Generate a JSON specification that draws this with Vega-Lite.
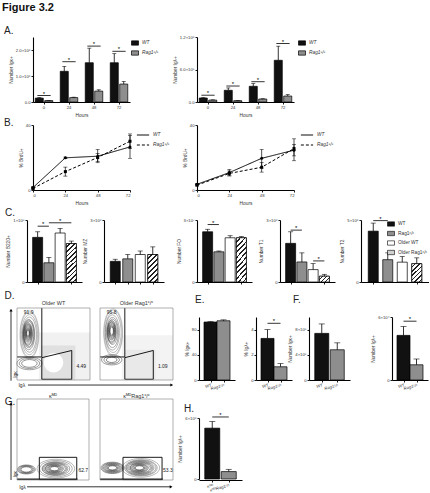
{
"$schema": "https://vega.github.io/schema/vega-lite/v6.json",
"background": "white",
"padding": {"left": 0, "top": 2, "right": 0, "bottom": 0},
"title": {"text": "Figure 3.2", "fontSize": 11, "fontWeight": "bold", "anchor": "start", "frame": "bounds", "dx": 2, "offset": 7, "color": "#111"},
"config": {
  "font": "Liberation Sans",
  "view": {"stroke": null},
  "axis": {"grid": false, "domainColor": "#000", "domainWidth": 1.1, "tickColor": "#000", "tickWidth": 0.9, "tickSize": 2, "labelFontSize": 4.2, "labelColor": "#333", "labelPadding": 1, "labelOverlap": false, "titleFontSize": 4.8, "titleFontWeight": "normal", "titleColor": "#333", "titlePadding": 2},
  "legend": {"labelColor": "#333"},
  "title": {"fontSize": 10, "fontWeight": "normal", "anchor": "start", "frame": "group", "color": "#222", "offset": 0}
},
"spacing": 0,
"resolve": {"scale": {"color": "independent", "shape": "independent", "size": "independent", "strokeDash": "independent", "stroke": "independent", "xOffset": "independent"}},
"vconcat": [
 {"bounds": "flush", "spacing": 0,
  "resolve": {"scale": {"color": "independent", "xOffset": "independent"}},
  "hconcat": [
 {"width": 130, "height": 82,
  "title": {"text": "A.", "dx": 4, "dy": 20},
  "layer": [
   {"data": {"values": [
      {"h": "0", "g": "WT", "v": 150000, "hi": 170000},
      {"h": "0", "g": "Rag1ᶜ/ᶜ", "v": 55000, "hi": 60000},
      {"h": "24", "g": "WT", "v": 1180000, "hi": 1370000},
      {"h": "24", "g": "Rag1ᶜ/ᶜ", "v": 170000, "hi": 185000},
      {"h": "48", "g": "WT", "v": 1510000, "hi": 2070000},
      {"h": "48", "g": "Rag1ᶜ/ᶜ", "v": 420000, "hi": 470000},
      {"h": "72", "g": "WT", "v": 1510000, "hi": 1860000},
      {"h": "72", "g": "Rag1ᶜ/ᶜ", "v": 690000, "hi": 790000}]},
    "encoding": {
      "x": {"field": "h", "type": "ordinal", "sort": ["0", "24", "48", "72"], "scale": {"range": [33, 130], "paddingInner": 0.3, "paddingOuter": 0.09}, "axis": {"title": "Hours", "labelAngle": 0, "titlePadding": 3}},
      "xOffset": {"field": "g", "type": "nominal", "sort": ["WT", "Rag1ᶜ/ᶜ"], "scale": {"paddingInner": 0.15}}},
    "layer": [
     {"mark": {"type": "bar", "stroke": "#000", "strokeWidth": 0.7},
      "encoding": {
       "y": {"field": "v", "type": "quantitative", "scale": {"domain": [0, 2500000], "nice": false, "range": [82, 17]}, "axis": {"offset": -33, "values": [0, 500000, 1000000, 1500000, 2000000, 2500000], "labelExpr": "datum.value == 0 ? '0.0' : datum.value < 1000000 ? format(datum.value/100000, '.1f') + '×10⁵' : format(datum.value/1000000, '.1f') + '×10⁶'", "title": "Number Igκ+"}},
       "color": {"field": "g", "type": "nominal", "sort": ["WT", "Rag1ᶜ/ᶜ"], "scale": {"domain": ["WT", "Rag1ᶜ/ᶜ"], "range": ["#111111", "#8e8e8e"]},
         "legend": {"title": null, "orient": "none", "legendX": 131, "legendY": 19, "padding": 0, "symbolType": "M-1,-0.62H1V0.62H-1Z", "symbolSize": 49, "symbolStrokeColor": "#000", "symbolStrokeWidth": 0.7, "labelFontSize": 4.8, "labelFontStyle": "italic", "labelOffset": 3, "rowPadding": 2}}}},
     {"mark": {"type": "rule", "color": "#000", "strokeWidth": 0.8},
      "encoding": {"y": {"field": "v", "type": "quantitative", "scale": {"domain": [0, 2500000], "nice": false, "range": [82, 17]}, "title": "Number Igκ+"}, "y2": {"field": "hi"}}},
     {"mark": {"type": "tick", "orient": "horizontal", "color": "#000", "size": 4, "thickness": 0.8},
      "encoding": {"y": {"field": "hi", "type": "quantitative", "scale": {"domain": [0, 2500000], "nice": false, "range": [82, 17]}, "title": "Number Igκ+"}}}
    ]},
   {"data": {"values": [{"h": "0", "y": 250000}, {"h": "24", "y": 1550000}, {"h": "48", "y": 2150000}, {"h": "72", "y": 1950000}]},
    "layer": [
     {"mark": {"type": "rule", "color": "#000", "strokeWidth": 0.8},
      "encoding": {"x": {"field": "h", "type": "ordinal", "sort": ["0", "24", "48", "72"], "scale": {"range": [33, 130], "paddingInner": 0.3, "paddingOuter": 0.09}, "bandPosition": 0.12, "title": "Hours"}, "x2": {"field": "h", "bandPosition": 0.88},
       "y": {"field": "y", "type": "quantitative", "scale": {"domain": [0, 2500000], "nice": false, "range": [82, 17]}, "title": "Number Igκ+"}}},
     {"mark": {"type": "text", "text": "*", "fontSize": 6, "baseline": "middle", "dy": -2, "color": "#000"},
      "encoding": {"x": {"field": "h", "type": "ordinal", "sort": ["0", "24", "48", "72"], "scale": {"range": [33, 130], "paddingInner": 0.3, "paddingOuter": 0.09}, "title": "Hours"},
       "y": {"field": "y", "type": "quantitative", "scale": {"domain": [0, 2500000], "nice": false, "range": [82, 17]}, "title": "Number Igκ+"}}}
    ]}
  ]},
 {"width": 164, "height": 82,
  "layer": [
   {"data": {"values": [
      {"h": "0", "g": "WT", "v": 74000, "hi": 80000},
      {"h": "0", "g": "Rag1ᶜ/ᶜ", "v": 35000, "hi": 40000},
      {"h": "24", "g": "WT", "v": 216000, "hi": 260000},
      {"h": "24", "g": "Rag1ᶜ/ᶜ", "v": 25000, "hi": 28000},
      {"h": "48", "g": "WT", "v": 290000, "hi": 340000},
      {"h": "48", "g": "Rag1ᶜ/ᶜ", "v": 55000, "hi": 60000},
      {"h": "72", "g": "WT", "v": 770000, "hi": 1030000},
      {"h": "72", "g": "Rag1ᶜ/ᶜ", "v": 110000, "hi": 137000}]},
    "encoding": {
      "x": {"field": "h", "type": "ordinal", "sort": ["0", "24", "48", "72"], "scale": {"range": [67, 164], "paddingInner": 0.3, "paddingOuter": 0.09}, "axis": {"title": "Hours", "labelAngle": 0, "titlePadding": 3}},
      "xOffset": {"field": "g", "type": "nominal", "sort": ["WT", "Rag1ᶜ/ᶜ"], "scale": {"paddingInner": 0.15}}},
    "layer": [
     {"mark": {"type": "bar", "stroke": "#000", "strokeWidth": 0.7},
      "encoding": {
       "y": {"field": "v", "type": "quantitative", "scale": {"domain": [0, 1200000], "nice": false, "range": [82, 17]}, "axis": {"offset": -67, "values": [0, 300000, 600000, 900000, 1200000], "labelExpr": "datum.value == 0 ? '0.0' : datum.value < 1000000 ? format(datum.value/100000, '.1f') + '×10⁵' : format(datum.value/1000000, '.1f') + '×10⁶'", "title": "Number Igλ+"}},
       "color": {"field": "g", "type": "nominal", "sort": ["WT", "Rag1ᶜ/ᶜ"], "scale": {"domain": ["WT", "Rag1ᶜ/ᶜ"], "range": ["#111111", "#8e8e8e"]},
         "legend": {"title": null, "orient": "none", "legendX": 168, "legendY": 19, "padding": 0, "symbolType": "M-1,-0.62H1V0.62H-1Z", "symbolSize": 49, "symbolStrokeColor": "#000", "symbolStrokeWidth": 0.7, "labelFontSize": 4.8, "labelFontStyle": "italic", "labelOffset": 3, "rowPadding": 2}}}},
     {"mark": {"type": "rule", "color": "#000", "strokeWidth": 0.8},
      "encoding": {"y": {"field": "v", "type": "quantitative", "scale": {"domain": [0, 1200000], "nice": false, "range": [82, 17]}, "title": "Number Igλ+"}, "y2": {"field": "hi"}}},
     {"mark": {"type": "tick", "orient": "horizontal", "color": "#000", "size": 4, "thickness": 0.8},
      "encoding": {"y": {"field": "hi", "type": "quantitative", "scale": {"domain": [0, 1200000], "nice": false, "range": [82, 17]}, "title": "Number Igλ+"}}}
    ]},
   {"data": {"values": [{"h": "0", "y": 125000}, {"h": "24", "y": 295000}, {"h": "48", "y": 375000}, {"h": "72", "y": 1080000}]},
    "layer": [
     {"mark": {"type": "rule", "color": "#000", "strokeWidth": 0.8},
      "encoding": {"x": {"field": "h", "type": "ordinal", "sort": ["0", "24", "48", "72"], "scale": {"range": [67, 164], "paddingInner": 0.3, "paddingOuter": 0.09}, "bandPosition": 0.12, "title": "Hours"}, "x2": {"field": "h", "bandPosition": 0.88},
       "y": {"field": "y", "type": "quantitative", "scale": {"domain": [0, 1200000], "nice": false, "range": [82, 17]}, "title": "Number Igλ+"}}},
     {"mark": {"type": "text", "text": "*", "fontSize": 6, "baseline": "middle", "dy": -2, "color": "#000"},
      "encoding": {"x": {"field": "h", "type": "ordinal", "sort": ["0", "24", "48", "72"], "scale": {"range": [67, 164], "paddingInner": 0.3, "paddingOuter": 0.09}, "title": "Hours"},
       "y": {"field": "y", "type": "quantitative", "scale": {"domain": [0, 1200000], "nice": false, "range": [82, 17]}, "title": "Number Igλ+"}}}
    ]}
  ]}
 ]},
 {"bounds": "flush", "spacing": 0,
  "resolve": {"scale": {"strokeDash": "independent"}},
  "hconcat": [
 {"width": 130, "height": 73,
  "title": {"text": "B.", "dx": 4, "dy": 15},
  "data": {"values": [
    {"h": 0, "g": "WT", "v": 1.5, "lo": 1.0, "hi": 2.0},
    {"h": 24, "g": "WT", "v": 19.8, "lo": 19.3, "hi": 20.3},
    {"h": 48, "g": "WT", "v": 20.8, "lo": 16.8, "hi": 25.0},
    {"h": 72, "g": "WT", "v": 26.5, "lo": 19.5, "hi": 33.5},
    {"h": 0, "g": "Rag1ᶜ/ᶜ", "v": 1.0, "lo": 0.5, "hi": 1.5},
    {"h": 24, "g": "Rag1ᶜ/ᶜ", "v": 11.3, "lo": 8.5, "hi": 14.1},
    {"h": 48, "g": "Rag1ᶜ/ᶜ", "v": 20.0, "lo": 17.5, "hi": 22.5},
    {"h": 72, "g": "Rag1ᶜ/ᶜ", "v": 30.0, "lo": 25.5, "hi": 34.5}]},
  "encoding": {"x": {"field": "h", "type": "quantitative", "scale": {"domain": [0, 72], "nice": false, "range": [33, 130]}, "axis": {"values": [0, 24, 48, 72], "title": "Hours", "titlePadding": 3}}},
  "layer": [
   {"mark": {"type": "rule", "color": "#000", "strokeWidth": 0.7},
    "encoding": {"y": {"field": "lo", "type": "quantitative", "scale": {"domain": [0, 40], "nice": false, "range": [73, 8]}, "axis": {"offset": -33, "values": [0, 10, 20, 30, 40]}, "title": "% BrdU+"}, "y2": {"field": "hi"}}},
   {"mark": {"type": "tick", "orient": "horizontal", "color": "#000", "size": 4, "thickness": 0.7},
    "encoding": {"y": {"field": "lo", "type": "quantitative", "scale": {"domain": [0, 40], "nice": false, "range": [73, 8]}, "title": "% BrdU+"}}},
   {"mark": {"type": "tick", "orient": "horizontal", "color": "#000", "size": 4, "thickness": 0.7},
    "encoding": {"y": {"field": "hi", "type": "quantitative", "scale": {"domain": [0, 40], "nice": false, "range": [73, 8]}, "title": "% BrdU+"}}},
   {"mark": {"type": "line", "color": "#000", "strokeWidth": 1},
    "encoding": {"y": {"field": "v", "type": "quantitative", "scale": {"domain": [0, 40], "nice": false, "range": [73, 8]}, "title": "% BrdU+"},
     "strokeDash": {"field": "g", "type": "nominal", "scale": {"domain": ["WT", "Rag1ᶜ/ᶜ"], "range": [[1, 0], [3, 2]]},
       "legend": {"title": null, "orient": "none", "legendX": 136, "legendY": 11, "padding": 0, "symbolType": "stroke", "symbolSize": 150, "symbolStrokeColor": "#000", "symbolStrokeWidth": 1, "labelFontSize": 4.8, "labelFontStyle": "italic", "labelOffset": 3, "rowPadding": 1}}}},
   {"transform": [{"filter": "datum.g == 'WT'"}],
    "mark": {"type": "point", "shape": "circle", "filled": true, "color": "#000", "size": 9, "opacity": 1},
    "encoding": {"y": {"field": "v", "type": "quantitative", "scale": {"domain": [0, 40], "nice": false, "range": [73, 8]}, "title": "% BrdU+"}}},
   {"transform": [{"filter": "datum.g != 'WT'"}],
    "mark": {"type": "point", "shape": "square", "filled": true, "color": "#000", "size": 9, "opacity": 1},
    "encoding": {"y": {"field": "v", "type": "quantitative", "scale": {"domain": [0, 40], "nice": false, "range": [73, 8]}, "title": "% BrdU+"}}}
  ]},
 {"width": 164, "height": 73,
  "data": {"values": [
    {"h": 0, "g": "WT", "v": 3.5, "lo": 3.0, "hi": 4.0},
    {"h": 24, "g": "WT", "v": 10.7, "lo": 8.7, "hi": 12.7},
    {"h": 48, "g": "WT", "v": 19.5, "lo": 13.5, "hi": 25.0},
    {"h": 72, "g": "WT", "v": 24.5, "lo": 21.0, "hi": 28.0},
    {"h": 0, "g": "Rag1ᶜ/ᶜ", "v": 3.0, "lo": 2.5, "hi": 3.5},
    {"h": 24, "g": "Rag1ᶜ/ᶜ", "v": 10.2, "lo": 8.7, "hi": 11.7},
    {"h": 48, "g": "Rag1ᶜ/ᶜ", "v": 14.0, "lo": 11.0, "hi": 17.0},
    {"h": 72, "g": "Rag1ᶜ/ᶜ", "v": 25.5, "lo": 18.0, "hi": 31.5}]},
  "encoding": {"x": {"field": "h", "type": "quantitative", "scale": {"domain": [0, 72], "nice": false, "range": [67, 164]}, "axis": {"values": [0, 24, 48, 72], "title": "Hours", "titlePadding": 3}}},
  "layer": [
   {"mark": {"type": "rule", "color": "#000", "strokeWidth": 0.7},
    "encoding": {"y": {"field": "lo", "type": "quantitative", "scale": {"domain": [0, 40], "nice": false, "range": [73, 8]}, "axis": {"offset": -67, "values": [0, 10, 20, 30, 40]}, "title": "% BrdU+"}, "y2": {"field": "hi"}}},
   {"mark": {"type": "tick", "orient": "horizontal", "color": "#000", "size": 4, "thickness": 0.7},
    "encoding": {"y": {"field": "lo", "type": "quantitative", "scale": {"domain": [0, 40], "nice": false, "range": [73, 8]}, "title": "% BrdU+"}}},
   {"mark": {"type": "tick", "orient": "horizontal", "color": "#000", "size": 4, "thickness": 0.7},
    "encoding": {"y": {"field": "hi", "type": "quantitative", "scale": {"domain": [0, 40], "nice": false, "range": [73, 8]}, "title": "% BrdU+"}}},
   {"mark": {"type": "line", "color": "#000", "strokeWidth": 1},
    "encoding": {"y": {"field": "v", "type": "quantitative", "scale": {"domain": [0, 40], "nice": false, "range": [73, 8]}, "title": "% BrdU+"},
     "strokeDash": {"field": "g", "type": "nominal", "scale": {"domain": ["WT", "Rag1ᶜ/ᶜ"], "range": [[1, 0], [3, 2]]},
       "legend": {"title": null, "orient": "none", "legendX": 170, "legendY": 11, "padding": 0, "symbolType": "stroke", "symbolSize": 150, "symbolStrokeColor": "#000", "symbolStrokeWidth": 1, "labelFontSize": 4.8, "labelFontStyle": "italic", "labelOffset": 3, "rowPadding": 1}}}},
   {"transform": [{"filter": "datum.g == 'WT'"}],
    "mark": {"type": "point", "shape": "circle", "filled": true, "color": "#000", "size": 9, "opacity": 1},
    "encoding": {"y": {"field": "v", "type": "quantitative", "scale": {"domain": [0, 40], "nice": false, "range": [73, 8]}, "title": "% BrdU+"}}},
   {"transform": [{"filter": "datum.g != 'WT'"}],
    "mark": {"type": "point", "shape": "square", "filled": true, "color": "#000", "size": 9, "opacity": 1},
    "encoding": {"y": {"field": "v", "type": "quantitative", "scale": {"domain": [0, 40], "nice": false, "range": [73, 8]}, "title": "% BrdU+"}}}
  ]}
 ]},
 {"bounds": "flush", "spacing": 0,
  "resolve": {"scale": {"color": "independent"}},
  "hconcat": [
 {"width": 82, "height": 77,
  "title": {"text": "C.", "dx": 5, "dy": 17},
  "layer": [
   {"data": {"values": [
      {"i": 1, "g": "WT", "v": 72000000, "hi": 81000000},
      {"i": 2, "g": "Rag1ᶜ/ᶜ", "v": 31000000, "hi": 39500000},
      {"i": 3, "g": "Older WT", "v": 79000000, "hi": 86500000},
      {"i": 4, "g": "Older Rag1ᶜ/ᶜ", "v": 62000000, "hi": 66000000}]},
    "encoding": {
      "x": {"field": "i", "type": "quantitative", "scale": {"domain": [0.5, 4.5], "nice": false, "zero": false, "range": [27, 82]}, "axis": {"values": [1, 2, 3, 4], "labels": false, "title": null}}},
    "layer": [
     {"mark": {"type": "bar", "size": 10, "stroke": "#000", "strokeWidth": 0.7},
      "encoding": {
       "y": {"field": "v", "type": "quantitative", "scale": {"domain": [0, 100000000], "nice": false, "range": [77, 15]}, "axis": {"offset": -27, "values": [0, 20000000, 40000000, 60000000, 80000000, 100000000], "labelExpr": "datum.value == 0 ? '0' : datum.value >= 100000000 ? '1×10⁸' : format(datum.value/10000000, 'd') + '×10⁷'", "title": "Number B220+"}},
       "color": {"field": "g", "type": "nominal", "scale": {"domain": ["WT", "Rag1ᶜ/ᶜ", "Older WT", "Older Rag1ᶜ/ᶜ"], "range": ["#111111", "#8e8e8e", "#ffffff", "#d0d0d0"]}, "legend": null}}},
     {"transform": [{"filter": "datum.i == 4"}],
      "mark": {"type": "bar", "size": 10, "stroke": "#000", "strokeWidth": 0.7,
       "fill": {"gradient": "linear", "x1": 0, "y1": 0, "x2": 1, "y2": 4, "stops": [
        {"offset": 0, "color": "#fff"}, {"offset": 0.018, "color": "#fff"}, {"offset": 0.018, "color": "#222"}, {"offset": 0.028, "color": "#222"},
        {"offset": 0.028, "color": "#fff"}, {"offset": 0.046, "color": "#fff"}, {"offset": 0.046, "color": "#222"}, {"offset": 0.056, "color": "#222"},
        {"offset": 0.056, "color": "#fff"}, {"offset": 0.074, "color": "#fff"}, {"offset": 0.074, "color": "#222"}, {"offset": 0.084, "color": "#222"},
        {"offset": 0.084, "color": "#fff"}, {"offset": 0.102, "color": "#fff"}, {"offset": 0.102, "color": "#222"}, {"offset": 0.112, "color": "#222"},
        {"offset": 0.112, "color": "#fff"}, {"offset": 0.13, "color": "#fff"}, {"offset": 0.13, "color": "#222"}, {"offset": 0.14, "color": "#222"},
        {"offset": 0.14, "color": "#fff"}, {"offset": 0.158, "color": "#fff"}, {"offset": 0.158, "color": "#222"}, {"offset": 0.168, "color": "#222"},
        {"offset": 0.168, "color": "#fff"}, {"offset": 0.186, "color": "#fff"}, {"offset": 0.186, "color": "#222"}, {"offset": 0.196, "color": "#222"},
        {"offset": 0.196, "color": "#fff"}, {"offset": 0.214, "color": "#fff"}, {"offset": 0.214, "color": "#222"}, {"offset": 0.224, "color": "#222"},
        {"offset": 0.224, "color": "#fff"}, {"offset": 0.242, "color": "#fff"}, {"offset": 0.242, "color": "#222"}, {"offset": 0.252, "color": "#222"},
        {"offset": 0.252, "color": "#fff"}, {"offset": 0.27, "color": "#fff"}, {"offset": 0.27, "color": "#222"}, {"offset": 0.28, "color": "#222"},
        {"offset": 0.28, "color": "#fff"}, {"offset": 0.298, "color": "#fff"}, {"offset": 0.298, "color": "#222"}, {"offset": 0.308, "color": "#222"},
        {"offset": 0.308, "color": "#fff"}]}},
      "encoding": {"y": {"field": "v", "type": "quantitative", "scale": {"domain": [0, 100000000], "nice": false, "range": [77, 15]}, "title": "Number B220+"}}},
     {"mark": {"type": "rule", "color": "#000", "strokeWidth": 0.8},
      "encoding": {"y": {"field": "v", "type": "quantitative", "scale": {"domain": [0, 100000000], "nice": false, "range": [77, 15]}, "title": "Number B220+"}, "y2": {"field": "hi"}}},
     {"mark": {"type": "tick", "orient": "horizontal", "color": "#000", "size": 5, "thickness": 0.8},
      "encoding": {"y": {"field": "hi", "type": "quantitative", "scale": {"domain": [0, 100000000], "nice": false, "range": [77, 15]}, "title": "Number B220+"}}}
    ]},
   {"data": {"values": [{"x1": 1, "x2": 2, "xm": 1.5, "y": 90000000}, {"x1": 2, "x2": 4, "xm": 3, "y": 95500000}]},
    "encoding": {"y": {"field": "y", "type": "quantitative", "scale": {"domain": [0, 100000000], "nice": false, "range": [77, 15]}, "title": "Number B220+"}},
    "layer": [
     {"mark": {"type": "rule", "color": "#000", "strokeWidth": 0.8},
      "encoding": {"x": {"field": "x1", "type": "quantitative", "scale": {"domain": [0.5, 4.5], "nice": false, "zero": false, "range": [27, 82]}, "title": null}, "x2": {"field": "x2"}}},
     {"mark": {"type": "text", "text": "*", "fontSize": 6, "baseline": "middle", "dy": -2, "color": "#000"},
      "encoding": {"x": {"field": "xm", "type": "quantitative", "scale": {"domain": [0.5, 4.5], "nice": false, "zero": false, "range": [27, 82]}, "title": null}}}
    ]}
  ]},
 {"width": 82, "height": 77,
  "data": {"values": [
    {"i": 1, "g": "WT", "v": 1000000, "hi": 1100000},
    {"i": 2, "g": "Rag1ᶜ/ᶜ", "v": 1120000, "hi": 1330000},
    {"i": 3, "g": "Older WT", "v": 1330000, "hi": 1500000},
    {"i": 4, "g": "Older Rag1ᶜ/ᶜ", "v": 1330000, "hi": 1700000}]},
  "encoding": {
    "x": {"field": "i", "type": "quantitative", "scale": {"domain": [0.5, 4.5], "nice": false, "zero": false, "range": [22, 82]}, "axis": {"values": [1, 2, 3, 4], "labels": false, "title": null}}},
  "layer": [
   {"mark": {"type": "bar", "size": 10, "stroke": "#000", "strokeWidth": 0.7},
    "encoding": {
     "y": {"field": "v", "type": "quantitative", "scale": {"domain": [0, 3000000], "nice": false, "range": [77, 15]}, "axis": {"offset": -22, "values": [0, 1000000, 2000000, 3000000], "labelExpr": "datum.value == 0 ? '0' : format(datum.value/1000000, 'd') + '×10⁶'", "title": "Number MZ"}},
     "color": {"field": "g", "type": "nominal", "scale": {"domain": ["WT", "Rag1ᶜ/ᶜ", "Older WT", "Older Rag1ᶜ/ᶜ"], "range": ["#111111", "#8e8e8e", "#ffffff", "#d0d0d0"]}, "legend": null}}},
   {"transform": [{"filter": "datum.i == 4"}],
    "mark": {"type": "bar", "size": 10, "stroke": "#000", "strokeWidth": 0.7,
     "fill": {"gradient": "linear", "x1": 0, "y1": 0, "x2": 1, "y2": 2.7, "stops": [
      {"offset": 0, "color": "#fff"}, {"offset": 0.039, "color": "#fff"}, {"offset": 0.039, "color": "#222"}, {"offset": 0.06, "color": "#222"},
      {"offset": 0.06, "color": "#fff"}, {"offset": 0.099, "color": "#fff"}, {"offset": 0.099, "color": "#222"}, {"offset": 0.12, "color": "#222"},
      {"offset": 0.12, "color": "#fff"}, {"offset": 0.159, "color": "#fff"}, {"offset": 0.159, "color": "#222"}, {"offset": 0.18, "color": "#222"},
      {"offset": 0.18, "color": "#fff"}, {"offset": 0.219, "color": "#fff"}, {"offset": 0.219, "color": "#222"}, {"offset": 0.24, "color": "#222"},
      {"offset": 0.24, "color": "#fff"}, {"offset": 0.279, "color": "#fff"}, {"offset": 0.279, "color": "#222"}, {"offset": 0.3, "color": "#222"},
      {"offset": 0.3, "color": "#fff"}, {"offset": 0.339, "color": "#fff"}, {"offset": 0.339, "color": "#222"}, {"offset": 0.36, "color": "#222"},
      {"offset": 0.36, "color": "#fff"}, {"offset": 0.399, "color": "#fff"}, {"offset": 0.399, "color": "#222"}, {"offset": 0.42, "color": "#222"},
      {"offset": 0.42, "color": "#fff"}, {"offset": 0.459, "color": "#fff"}, {"offset": 0.459, "color": "#222"}, {"offset": 0.48, "color": "#222"},
      {"offset": 0.48, "color": "#fff"}]}},
    "encoding": {"y": {"field": "v", "type": "quantitative", "scale": {"domain": [0, 3000000], "nice": false, "range": [77, 15]}, "title": "Number MZ"}}},
   {"mark": {"type": "rule", "color": "#000", "strokeWidth": 0.8},
    "encoding": {"y": {"field": "v", "type": "quantitative", "scale": {"domain": [0, 3000000], "nice": false, "range": [77, 15]}, "title": "Number MZ"}, "y2": {"field": "hi"}}},
   {"mark": {"type": "tick", "orient": "horizontal", "color": "#000", "size": 5, "thickness": 0.8},
    "encoding": {"y": {"field": "hi", "type": "quantitative", "scale": {"domain": [0, 3000000], "nice": false, "range": [77, 15]}, "title": "Number MZ"}}}
  ]},
 {"width": 88, "height": 77,
  "layer": [
   {"data": {"values": [
      {"i": 1, "g": "WT", "v": 24300000, "hi": 25500000},
      {"i": 2, "g": "Rag1ᶜ/ᶜ", "v": 14600000, "hi": 15000000},
      {"i": 3, "g": "Older WT", "v": 21400000, "hi": 22400000},
      {"i": 4, "g": "Older Rag1ᶜ/ᶜ", "v": 21400000, "hi": 22000000}]},
    "encoding": {
      "x": {"field": "i", "type": "quantitative", "scale": {"domain": [0.5, 4.5], "nice": false, "zero": false, "range": [33, 88]}, "axis": {"values": [1, 2, 3, 4], "labels": false, "title": null}}},
    "layer": [
     {"mark": {"type": "bar", "size": 10, "stroke": "#000", "strokeWidth": 0.7},
      "encoding": {
       "y": {"field": "v", "type": "quantitative", "scale": {"domain": [0, 30000000], "nice": false, "range": [77, 15]}, "axis": {"offset": -33, "values": [0, 10000000, 20000000, 30000000], "labelExpr": "datum.value == 0 ? '0' : format(datum.value/10000000, 'd') + '×10⁷'", "title": "Number FO"}},
       "color": {"field": "g", "type": "nominal", "scale": {"domain": ["WT", "Rag1ᶜ/ᶜ", "Older WT", "Older Rag1ᶜ/ᶜ"], "range": ["#111111", "#8e8e8e", "#ffffff", "#d0d0d0"]}, "legend": null}}},
     {"transform": [{"filter": "datum.i == 4"}],
      "mark": {"type": "bar", "size": 10, "stroke": "#000", "strokeWidth": 0.7,
       "fill": {"gradient": "linear", "x1": 0, "y1": 0, "x2": 1, "y2": 4, "stops": [
        {"offset": 0, "color": "#fff"}, {"offset": 0.018, "color": "#fff"}, {"offset": 0.018, "color": "#222"}, {"offset": 0.028, "color": "#222"},
        {"offset": 0.028, "color": "#fff"}, {"offset": 0.046, "color": "#fff"}, {"offset": 0.046, "color": "#222"}, {"offset": 0.056, "color": "#222"},
        {"offset": 0.056, "color": "#fff"}, {"offset": 0.074, "color": "#fff"}, {"offset": 0.074, "color": "#222"}, {"offset": 0.084, "color": "#222"},
        {"offset": 0.084, "color": "#fff"}, {"offset": 0.102, "color": "#fff"}, {"offset": 0.102, "color": "#222"}, {"offset": 0.112, "color": "#222"},
        {"offset": 0.112, "color": "#fff"}, {"offset": 0.13, "color": "#fff"}, {"offset": 0.13, "color": "#222"}, {"offset": 0.14, "color": "#222"},
        {"offset": 0.14, "color": "#fff"}, {"offset": 0.158, "color": "#fff"}, {"offset": 0.158, "color": "#222"}, {"offset": 0.168, "color": "#222"},
        {"offset": 0.168, "color": "#fff"}, {"offset": 0.186, "color": "#fff"}, {"offset": 0.186, "color": "#222"}, {"offset": 0.196, "color": "#222"},
        {"offset": 0.196, "color": "#fff"}, {"offset": 0.214, "color": "#fff"}, {"offset": 0.214, "color": "#222"}, {"offset": 0.224, "color": "#222"},
        {"offset": 0.224, "color": "#fff"}, {"offset": 0.242, "color": "#fff"}, {"offset": 0.242, "color": "#222"}, {"offset": 0.252, "color": "#222"},
        {"offset": 0.252, "color": "#fff"}, {"offset": 0.27, "color": "#fff"}, {"offset": 0.27, "color": "#222"}, {"offset": 0.28, "color": "#222"},
        {"offset": 0.28, "color": "#fff"}, {"offset": 0.298, "color": "#fff"}, {"offset": 0.298, "color": "#222"}, {"offset": 0.308, "color": "#222"},
        {"offset": 0.308, "color": "#fff"}]}},
      "encoding": {"y": {"field": "v", "type": "quantitative", "scale": {"domain": [0, 30000000], "nice": false, "range": [77, 15]}, "title": "Number FO"}}},
     {"mark": {"type": "rule", "color": "#000", "strokeWidth": 0.8},
      "encoding": {"y": {"field": "v", "type": "quantitative", "scale": {"domain": [0, 30000000], "nice": false, "range": [77, 15]}, "title": "Number FO"}, "y2": {"field": "hi"}}},
     {"mark": {"type": "tick", "orient": "horizontal", "color": "#000", "size": 5, "thickness": 0.8},
      "encoding": {"y": {"field": "hi", "type": "quantitative", "scale": {"domain": [0, 30000000], "nice": false, "range": [77, 15]}, "title": "Number FO"}}}
    ]},
   {"data": {"values": [{"x1": 1, "x2": 2, "xm": 1.5, "y": 27800000}]},
    "encoding": {"y": {"field": "y", "type": "quantitative", "scale": {"domain": [0, 30000000], "nice": false, "range": [77, 15]}, "title": "Number FO"}},
    "layer": [
     {"mark": {"type": "rule", "color": "#000", "strokeWidth": 0.8},
      "encoding": {"x": {"field": "x1", "type": "quantitative", "scale": {"domain": [0.5, 4.5], "nice": false, "zero": false, "range": [33, 88]}, "title": null}, "x2": {"field": "x2"}}},
     {"mark": {"type": "text", "text": "*", "fontSize": 6, "baseline": "middle", "dy": -2, "color": "#000"},
      "encoding": {"x": {"field": "xm", "type": "quantitative", "scale": {"domain": [0.5, 4.5], "nice": false, "zero": false, "range": [33, 88]}, "title": null}}}
    ]}
  ]},
 {"width": 83, "height": 77,
  "layer": [
   {"data": {"values": [
      {"i": 1, "g": "WT", "v": 1870000, "hi": 2430000},
      {"i": 2, "g": "Rag1ᶜ/ᶜ", "v": 970000, "hi": 1410000},
      {"i": 3, "g": "Older WT", "v": 600000, "hi": 890000},
      {"i": 4, "g": "Older Rag1ᶜ/ᶜ", "v": 280000, "hi": 370000}]},
    "encoding": {
      "x": {"field": "i", "type": "quantitative", "scale": {"domain": [0.5, 4.5], "nice": false, "zero": false, "range": [28, 83]}, "axis": {"values": [1, 2, 3, 4], "labels": false, "title": null}}},
    "layer": [
     {"mark": {"type": "bar", "size": 10, "stroke": "#000", "strokeWidth": 0.7},
      "encoding": {
       "y": {"field": "v", "type": "quantitative", "scale": {"domain": [0, 3000000], "nice": false, "range": [77, 15]}, "axis": {"offset": -28, "values": [0, 1000000, 2000000, 3000000], "labelExpr": "datum.value == 0 ? '0' : format(datum.value/1000000, 'd') + '×10⁶'", "title": "Number T1"}},
       "color": {"field": "g", "type": "nominal", "scale": {"domain": ["WT", "Rag1ᶜ/ᶜ", "Older WT", "Older Rag1ᶜ/ᶜ"], "range": ["#111111", "#8e8e8e", "#ffffff", "#d0d0d0"]}, "legend": null}}},
     {"transform": [{"filter": "datum.i == 4"}],
      "mark": {"type": "bar", "size": 10, "stroke": "#000", "strokeWidth": 0.7,
       "fill": {"gradient": "linear", "x1": 0, "y1": 0, "x2": 1, "y2": 0.6, "stops": [
        {"offset": 0, "color": "#fff"}, {"offset": 0.195, "color": "#fff"}, {"offset": 0.195, "color": "#222"}, {"offset": 0.3, "color": "#222"},
        {"offset": 0.3, "color": "#fff"}, {"offset": 0.495, "color": "#fff"}, {"offset": 0.495, "color": "#222"}, {"offset": 0.6, "color": "#222"},
        {"offset": 0.6, "color": "#fff"}, {"offset": 0.795, "color": "#fff"}, {"offset": 0.795, "color": "#222"}, {"offset": 0.9, "color": "#222"},
        {"offset": 0.9, "color": "#fff"}]}},
      "encoding": {"y": {"field": "v", "type": "quantitative", "scale": {"domain": [0, 3000000], "nice": false, "range": [77, 15]}, "title": "Number T1"}}},
     {"mark": {"type": "rule", "color": "#000", "strokeWidth": 0.8},
      "encoding": {"y": {"field": "v", "type": "quantitative", "scale": {"domain": [0, 3000000], "nice": false, "range": [77, 15]}, "title": "Number T1"}, "y2": {"field": "hi"}}},
     {"mark": {"type": "tick", "orient": "horizontal", "color": "#000", "size": 5, "thickness": 0.8},
      "encoding": {"y": {"field": "hi", "type": "quantitative", "scale": {"domain": [0, 3000000], "nice": false, "range": [77, 15]}, "title": "Number T1"}}}
    ]},
   {"data": {"values": [{"x1": 1, "x2": 2, "xm": 1.5, "y": 2510000}, {"x1": 3, "x2": 4, "xm": 3.5, "y": 1020000}]},
    "encoding": {"y": {"field": "y", "type": "quantitative", "scale": {"domain": [0, 3000000], "nice": false, "range": [77, 15]}, "title": "Number T1"}},
    "layer": [
     {"mark": {"type": "rule", "color": "#000", "strokeWidth": 0.8},
      "encoding": {"x": {"field": "x1", "type": "quantitative", "scale": {"domain": [0.5, 4.5], "nice": false, "zero": false, "range": [28, 83]}, "title": null}, "x2": {"field": "x2"}}},
     {"mark": {"type": "text", "text": "*", "fontSize": 6, "baseline": "middle", "dy": -2, "color": "#000"},
      "encoding": {"x": {"field": "xm", "type": "quantitative", "scale": {"domain": [0.5, 4.5], "nice": false, "zero": false, "range": [28, 83]}, "title": null}}}
    ]}
  ]},
 {"width": 94, "height": 77,
  "layer": [
   {"data": {"values": [
      {"i": 1, "g": "WT", "v": 4100000, "hi": 4750000},
      {"i": 2, "g": "Rag1ᶜ/ᶜ", "v": 1800000, "hi": 2350000},
      {"i": 3, "g": "Older WT", "v": 1600000, "hi": 2050000},
      {"i": 4, "g": "Older Rag1ᶜ/ᶜ", "v": 1480000, "hi": 1950000}]},
    "encoding": {
      "x": {"field": "i", "type": "quantitative", "scale": {"domain": [0.5, 4.5], "nice": false, "zero": false, "range": [26, 94]}, "axis": {"values": [1, 2, 3, 4], "labels": false, "title": null}}},
    "layer": [
     {"mark": {"type": "bar", "size": 10, "stroke": "#000", "strokeWidth": 0.7},
      "encoding": {
       "y": {"field": "v", "type": "quantitative", "scale": {"domain": [0, 5000000], "nice": false, "range": [77, 15]}, "axis": {"offset": -26, "values": [0, 1000000, 2000000, 3000000, 4000000, 5000000], "labelExpr": "datum.value == 0 ? '0' : format(datum.value/1000000, 'd') + '×10⁶'", "title": "Number T2"}},
       "color": {"field": "g", "type": "nominal", "scale": {"domain": ["WT", "Rag1ᶜ/ᶜ", "Older WT", "Older Rag1ᶜ/ᶜ"], "range": ["#111111", "#8e8e8e", "#ffffff", "#d0d0d0"]},
         "legend": {"title": null, "orient": "none", "legendX": 52, "legendY": 15, "padding": 0, "symbolType": "M-1,-0.62H1V0.62H-1Z", "symbolSize": 49, "symbolStrokeColor": "#000", "symbolStrokeWidth": 0.6, "labelFontSize": 4.8, "labelOffset": 3, "rowPadding": 1.5}}}},
     {"transform": [{"filter": "datum.i == 4"}],
      "mark": {"type": "bar", "size": 10, "stroke": "#000", "strokeWidth": 0.7,
       "fill": {"gradient": "linear", "x1": 0, "y1": 0, "x2": 1, "y2": 1.84, "stops": [
        {"offset": 0, "color": "#fff"}, {"offset": 0.065, "color": "#fff"}, {"offset": 0.065, "color": "#222"}, {"offset": 0.1, "color": "#222"},
        {"offset": 0.1, "color": "#fff"}, {"offset": 0.165, "color": "#fff"}, {"offset": 0.165, "color": "#222"}, {"offset": 0.2, "color": "#222"},
        {"offset": 0.2, "color": "#fff"}, {"offset": 0.265, "color": "#fff"}, {"offset": 0.265, "color": "#222"}, {"offset": 0.3, "color": "#222"},
        {"offset": 0.3, "color": "#fff"}, {"offset": 0.365, "color": "#fff"}, {"offset": 0.365, "color": "#222"}, {"offset": 0.4, "color": "#222"},
        {"offset": 0.4, "color": "#fff"}, {"offset": 0.465, "color": "#fff"}, {"offset": 0.465, "color": "#222"}, {"offset": 0.5, "color": "#222"},
        {"offset": 0.5, "color": "#fff"}, {"offset": 0.565, "color": "#fff"}, {"offset": 0.565, "color": "#222"}, {"offset": 0.6, "color": "#222"},
        {"offset": 0.6, "color": "#fff"}, {"offset": 0.665, "color": "#fff"}, {"offset": 0.665, "color": "#222"}, {"offset": 0.7, "color": "#222"},
        {"offset": 0.7, "color": "#fff"}]}},
      "encoding": {"y": {"field": "v", "type": "quantitative", "scale": {"domain": [0, 5000000], "nice": false, "range": [77, 15]}, "title": "Number T2"}}},
     {"mark": {"type": "rule", "color": "#000", "strokeWidth": 0.8},
      "encoding": {"y": {"field": "v", "type": "quantitative", "scale": {"domain": [0, 5000000], "nice": false, "range": [77, 15]}, "title": "Number T2"}, "y2": {"field": "hi"}}},
     {"mark": {"type": "tick", "orient": "horizontal", "color": "#000", "size": 5, "thickness": 0.8},
      "encoding": {"y": {"field": "hi", "type": "quantitative", "scale": {"domain": [0, 5000000], "nice": false, "range": [77, 15]}, "title": "Number T2"}}}
    ]},
   {"data": {"values": [{"x1": 1, "x2": 2, "xm": 1.5, "y": 4950000}]},
    "encoding": {"y": {"field": "y", "type": "quantitative", "scale": {"domain": [0, 5000000], "nice": false, "range": [77, 15]}, "title": "Number T2"}},
    "layer": [
     {"mark": {"type": "rule", "color": "#000", "strokeWidth": 0.8},
      "encoding": {"x": {"field": "x1", "type": "quantitative", "scale": {"domain": [0.5, 4.5], "nice": false, "zero": false, "range": [26, 94]}, "title": null}, "x2": {"field": "x2"}}},
     {"mark": {"type": "text", "text": "*", "fontSize": 6, "baseline": "middle", "dy": -2, "color": "#000"},
      "encoding": {"x": {"field": "xm", "type": "quantitative", "scale": {"domain": [0.5, 4.5], "nice": false, "zero": false, "range": [26, 94]}, "title": null}}}
    ]}
  ]}
 ]},
 {"bounds": "flush", "spacing": 0,
  "resolve": {"scale": {"color": "independent", "shape": "independent", "size": "independent", "stroke": "independent"}},
  "hconcat": [
 {"width": 90, "height": 95,
  "title": {"text": "Older WT", "anchor": "middle", "fontSize": 5.5, "dx": 8.5, "dy": 25, "color": "#333"},
  "layer": [
   {"data": {"values": [{"x": 30, "x2": 100, "y": 0, "y2": 66, "d": "low"}, {"x": 33, "x2": 80, "y": 0, "y2": 48, "d": "mid"}]},
    "mark": {"type": "rect"},
    "encoding": {
     "x": {"field": "x", "type": "quantitative", "scale": {"domain": [0, 100], "nice": false, "zero": false, "range": [17, 90]}, "axis": null}, "x2": {"field": "x2"},
     "y": {"field": "y", "type": "quantitative", "scale": {"domain": [0, 100], "nice": false, "zero": false, "range": [95, 23]}, "axis": null}, "y2": {"field": "y2"},
     "color": {"field": "d", "type": "nominal", "scale": {"domain": ["low", "mid"], "range": ["#f1f1f1", "#e0e0e0"]}, "legend": null}}},
   {"data": {"values": [{"x": 50, "y": 24}]},
    "mark": {"type": "point", "shape": "circle", "filled": true, "color": "#ffffff", "size": 380, "opacity": 1},
    "encoding": {
     "x": {"field": "x", "type": "quantitative", "scale": {"domain": [0, 100], "nice": false, "zero": false, "range": [17, 90]}, "axis": null},
     "y": {"field": "y", "type": "quantitative", "scale": {"domain": [0, 100], "nice": false, "zero": false, "range": [95, 23]}, "axis": null}}},
   {"data": {"values": [
      {"x": 17, "y": 63, "f": "v", "lv": 9.5}, {"x": 17, "y": 63, "f": "v", "lv": 9}, {"x": 17, "y": 63, "f": "v", "lv": 8},
      {"x": 17, "y": 63, "f": "v", "lv": 7}, {"x": 16, "y": 63, "f": "v", "lv": 6}, {"x": 16, "y": 64, "f": "v", "lv": 5.5},
      {"x": 16, "y": 64, "f": "v", "lv": 5}, {"x": 15, "y": 64, "f": "v", "lv": 4.5}, {"x": 15, "y": 64, "f": "v", "lv": 4},
      {"x": 15, "y": 65, "f": "v", "lv": 3.5}, {"x": 15, "y": 65, "f": "v", "lv": 3}, {"x": 15, "y": 65, "f": "v", "lv": 2.5},
      {"x": 15, "y": 65, "f": "v", "lv": 2}, {"x": 15, "y": 65, "f": "v", "lv": 1.5}, {"x": 15, "y": 65, "f": "v", "lv": 1},
      {"x": 17, "y": 23, "f": "h", "lv": 5}, {"x": 17, "y": 23, "f": "h", "lv": 4}, {"x": 17, "y": 23, "f": "h", "lv": 3}]},
    "mark": {"type": "point", "filled": false, "strokeWidth": 0.5, "opacity": 1},
    "encoding": {
     "x": {"field": "x", "type": "quantitative", "scale": {"domain": [0, 100], "nice": false, "zero": false, "range": [17, 90]}, "axis": null},
     "y": {"field": "y", "type": "quantitative", "scale": {"domain": [0, 100], "nice": false, "zero": false, "range": [95, 23]}, "axis": null},
     "shape": {"field": "f", "type": "nominal", "scale": {"domain": ["v", "h"], "range": ["M0,-1A0.4,1 0 1,1 0,1A0.4,1 0 1,1 0,-1Z", "M-1,0A1,0.5 0 1,1 1,0A1,0.5 0 1,1 -1,0Z"]}, "legend": null},
     "size": {"field": "lv", "type": "quantitative", "scale": {"type": "pow", "exponent": 2, "domain": [1, 10], "range": [40, 2500]}, "legend": null},
     "stroke": {"field": "lv", "type": "quantitative", "scale": {"domain": [1, 10], "range": ["#000000", "#a0a0a0"]}, "legend": null}}},
   {"data": {"values": [
      {"gate": "a", "o": 1, "x": 0, "y": 32}, {"gate": "a", "o": 2, "x": 34, "y": 32}, {"gate": "a", "o": 3, "x": 34, "y": 100},
      {"gate": "b", "o": 1, "x": 34, "y": 1}, {"gate": "b", "o": 2, "x": 34, "y": 31}, {"gate": "b", "o": 3, "x": 75, "y": 41},
      {"gate": "b", "o": 4, "x": 75, "y": 1}, {"gate": "b", "o": 5, "x": 34, "y": 1}]},
    "mark": {"type": "line", "color": "#000", "strokeWidth": 0.9},
    "encoding": {
     "x": {"field": "x", "type": "quantitative", "scale": {"domain": [0, 100], "nice": false, "zero": false, "range": [17, 90]}, "axis": null},
     "y": {"field": "y", "type": "quantitative", "scale": {"domain": [0, 100], "nice": false, "zero": false, "range": [95, 23]}, "axis": null},
     "detail": {"field": "gate"}, "order": {"field": "o"}}},
   {"data": {"values": [{"x": 0, "x2": 100, "y": 0, "y2": 100}]},
    "mark": {"type": "rect", "fill": "transparent", "stroke": "#8c8c8c", "strokeWidth": 0.7},
    "encoding": {
     "x": {"field": "x", "type": "quantitative", "scale": {"domain": [0, 100], "nice": false, "zero": false, "range": [17, 90]}, "axis": null}, "x2": {"field": "x2"},
     "y": {"field": "y", "type": "quantitative", "scale": {"domain": [0, 100], "nice": false, "zero": false, "range": [95, 23]}, "axis": null}, "y2": {"field": "y2"}}},
   {"data": {"values": [{"x": 16, "y": 94, "t": "91.9"}, {"x": 88, "y": 19, "t": "4.49"}]},
    "mark": {"type": "text", "fontSize": 5, "color": "#222"},
    "encoding": {
     "x": {"field": "x", "type": "quantitative", "scale": {"domain": [0, 100], "nice": false, "zero": false, "range": [17, 90]}, "axis": null},
     "y": {"field": "y", "type": "quantitative", "scale": {"domain": [0, 100], "nice": false, "zero": false, "range": [95, 23]}, "axis": null},
     "text": {"field": "t"}}},
   {"data": {"values": [{"x": -17, "y": 117, "t": "D."}]},
    "mark": {"type": "text", "fontSize": 10, "align": "left", "baseline": "middle", "color": "#222"},
    "encoding": {
     "x": {"field": "x", "type": "quantitative", "scale": {"domain": [0, 100], "nice": false, "zero": false, "range": [17, 90]}, "axis": null},
     "y": {"field": "y", "type": "quantitative", "scale": {"domain": [0, 100], "nice": false, "zero": false, "range": [95, 23]}, "axis": null},
     "text": {"field": "t"}}},
   {"data": {"values": [{"x": -8.2, "x2": -8.2, "y": -1, "y2": 96}, {"x": 15, "x2": 211, "y": -7, "y2": -7}]},
    "mark": {"type": "rule", "color": "#000", "strokeWidth": 0.8},
    "encoding": {
     "x": {"field": "x", "type": "quantitative", "scale": {"domain": [0, 100], "nice": false, "zero": false, "range": [17, 90]}, "axis": null}, "x2": {"field": "x2"},
     "y": {"field": "y", "type": "quantitative", "scale": {"domain": [0, 100], "nice": false, "zero": false, "range": [95, 23]}, "axis": null}, "y2": {"field": "y2"}}},
   {"data": {"values": [{"x": -8.2, "y": 97}]},
    "mark": {"type": "point", "shape": "triangle-up", "filled": true, "color": "#000", "size": 10, "opacity": 1},
    "encoding": {
     "x": {"field": "x", "type": "quantitative", "scale": {"domain": [0, 100], "nice": false, "zero": false, "range": [17, 90]}, "axis": null},
     "y": {"field": "y", "type": "quantitative", "scale": {"domain": [0, 100], "nice": false, "zero": false, "range": [95, 23]}, "axis": null}}},
   {"data": {"values": [{"x": 212, "y": -7}]},
    "mark": {"type": "point", "shape": "triangle-right", "filled": true, "color": "#000", "size": 10, "opacity": 1},
    "encoding": {
     "x": {"field": "x", "type": "quantitative", "scale": {"domain": [0, 100], "nice": false, "zero": false, "range": [17, 90]}, "axis": null},
     "y": {"field": "y", "type": "quantitative", "scale": {"domain": [0, 100], "nice": false, "zero": false, "range": [95, 23]}, "axis": null}}},
   {"data": {"values": [{"x": -2.5, "y": 3, "t": "Igκ"}]},
    "mark": {"type": "text", "fontSize": 5, "angle": 270, "align": "left", "baseline": "middle", "color": "#222"},
    "encoding": {
     "x": {"field": "x", "type": "quantitative", "scale": {"domain": [0, 100], "nice": false, "zero": false, "range": [17, 90]}, "axis": null},
     "y": {"field": "y", "type": "quantitative", "scale": {"domain": [0, 100], "nice": false, "zero": false, "range": [95, 23]}, "axis": null},
     "text": {"field": "t"}}},
   {"data": {"values": [{"x": 2, "y": -7, "t": "Igλ"}]},
    "mark": {"type": "text", "fontSize": 5, "align": "left", "baseline": "middle", "color": "#222"},
    "encoding": {
     "x": {"field": "x", "type": "quantitative", "scale": {"domain": [0, 100], "nice": false, "zero": false, "range": [17, 90]}, "axis": null},
     "y": {"field": "y", "type": "quantitative", "scale": {"domain": [0, 100], "nice": false, "zero": false, "range": [95, 23]}, "axis": null},
     "text": {"field": "t"}}}
  ]},
 {"width": 83, "height": 95,
  "title": {"text": "Older Rag1ᶜ/ᶜ", "anchor": "middle", "fontSize": 5.5, "dx": 5, "dy": 25, "color": "#333"},
  "layer": [
   {"data": {"values": [{"x": 30, "x2": 100, "y": 0, "y2": 62, "d": "low"}, {"x": 34, "x2": 76, "y": 0, "y2": 42, "d": "mid"}]},
    "mark": {"type": "rect"},
    "encoding": {
     "x": {"field": "x", "type": "quantitative", "scale": {"domain": [0, 100], "nice": false, "zero": false, "range": [10, 83]}, "axis": null}, "x2": {"field": "x2"},
     "y": {"field": "y", "type": "quantitative", "scale": {"domain": [0, 100], "nice": false, "zero": false, "range": [95, 23]}, "axis": null}, "y2": {"field": "y2"},
     "color": {"field": "d", "type": "nominal", "scale": {"domain": ["low", "mid"], "range": ["#f3f3f3", "#e9e9e9"]}, "legend": null}}},
   {"data": {"values": [
      {"x": 18, "y": 66, "f": "v", "lv": 9.5}, {"x": 18, "y": 66, "f": "v", "lv": 9}, {"x": 18, "y": 66, "f": "v", "lv": 8},
      {"x": 17, "y": 66, "f": "v", "lv": 7}, {"x": 17, "y": 66, "f": "v", "lv": 6}, {"x": 17, "y": 67, "f": "v", "lv": 5},
      {"x": 16, "y": 67, "f": "v", "lv": 4.5}, {"x": 16, "y": 67, "f": "v", "lv": 4}, {"x": 16, "y": 68, "f": "v", "lv": 3.5},
      {"x": 16, "y": 68, "f": "v", "lv": 3}, {"x": 16, "y": 68, "f": "v", "lv": 2.5}, {"x": 16, "y": 68, "f": "v", "lv": 2},
      {"x": 16, "y": 68, "f": "v", "lv": 1.5},
      {"x": 16, "y": 28, "f": "h", "lv": 4}, {"x": 16, "y": 28, "f": "h", "lv": 3}, {"x": 16, "y": 28, "f": "h", "lv": 2}]},
    "mark": {"type": "point", "filled": false, "strokeWidth": 0.5, "opacity": 1},
    "encoding": {
     "x": {"field": "x", "type": "quantitative", "scale": {"domain": [0, 100], "nice": false, "zero": false, "range": [10, 83]}, "axis": null},
     "y": {"field": "y", "type": "quantitative", "scale": {"domain": [0, 100], "nice": false, "zero": false, "range": [95, 23]}, "axis": null},
     "shape": {"field": "f", "type": "nominal", "scale": {"domain": ["v", "h"], "range": ["M0,-1A0.4,1 0 1,1 0,1A0.4,1 0 1,1 0,-1Z", "M-1,0A1,0.5 0 1,1 1,0A1,0.5 0 1,1 -1,0Z"]}, "legend": null},
     "size": {"field": "lv", "type": "quantitative", "scale": {"type": "pow", "exponent": 2, "domain": [1, 10], "range": [40, 2500]}, "legend": null},
     "stroke": {"field": "lv", "type": "quantitative", "scale": {"domain": [1, 10], "range": ["#000000", "#a0a0a0"]}, "legend": null}}},
   {"data": {"values": [
      {"gate": "a", "o": 1, "x": 0, "y": 32}, {"gate": "a", "o": 2, "x": 34, "y": 32}, {"gate": "a", "o": 3, "x": 34, "y": 100},
      {"gate": "b", "o": 1, "x": 34, "y": 1}, {"gate": "b", "o": 2, "x": 34, "y": 31}, {"gate": "b", "o": 3, "x": 73, "y": 41},
      {"gate": "b", "o": 4, "x": 73, "y": 1}, {"gate": "b", "o": 5, "x": 34, "y": 1}]},
    "mark": {"type": "line", "color": "#000", "strokeWidth": 0.9},
    "encoding": {
     "x": {"field": "x", "type": "quantitative", "scale": {"domain": [0, 100], "nice": false, "zero": false, "range": [10, 83]}, "axis": null},
     "y": {"field": "y", "type": "quantitative", "scale": {"domain": [0, 100], "nice": false, "zero": false, "range": [95, 23]}, "axis": null},
     "detail": {"field": "gate"}, "order": {"field": "o"}}},
   {"data": {"values": [{"x": 0, "x2": 100, "y": 0, "y2": 100}]},
    "mark": {"type": "rect", "fill": "transparent", "stroke": "#8c8c8c", "strokeWidth": 0.7},
    "encoding": {
     "x": {"field": "x", "type": "quantitative", "scale": {"domain": [0, 100], "nice": false, "zero": false, "range": [10, 83]}, "axis": null}, "x2": {"field": "x2"},
     "y": {"field": "y", "type": "quantitative", "scale": {"domain": [0, 100], "nice": false, "zero": false, "range": [95, 23]}, "axis": null}, "y2": {"field": "y2"}}},
   {"data": {"values": [{"x": 16, "y": 94, "t": "96.8"}, {"x": 86, "y": 19, "t": "1.09"}]},
    "mark": {"type": "text", "fontSize": 5, "color": "#222"},
    "encoding": {
     "x": {"field": "x", "type": "quantitative", "scale": {"domain": [0, 100], "nice": false, "zero": false, "range": [10, 83]}, "axis": null},
     "y": {"field": "y", "type": "quantitative", "scale": {"domain": [0, 100], "nice": false, "zero": false, "range": [95, 23]}, "axis": null},
     "text": {"field": "t"}}}
  ]},
 {"width": 62, "height": 95,
  "title": {"text": "E.", "dx": 22, "dy": 24},
  "data": {"values": [{"i": 1, "g": "WT", "v": 92, "hi": 92.6}, {"i": 2, "g": "Rag1ᶜ/ᶜ", "v": 94, "hi": 95.5}]},
  "encoding": {
    "x": {"field": "i", "type": "quantitative", "scale": {"domain": [0.5, 2.5], "nice": false, "zero": false, "range": [26, 62]}, "axis": {"values": [1, 2], "labelExpr": "datum.value == 1 ? 'WT' : 'Rag1ᶜ/ᶜ'", "labelAngle": -15, "labelFontStyle": "italic", "title": null}}},
  "layer": [
   {"mark": {"type": "bar", "size": 13, "stroke": "#000", "strokeWidth": 0.7},
    "encoding": {
     "y": {"field": "v", "type": "quantitative", "scale": {"domain": [0, 100], "nice": false, "range": [95, 32]}, "axis": {"offset": -26, "values": [0, 20, 40, 60, 80, 100], "title": "% Igκ+"}},
     "color": {"field": "g", "type": "nominal", "scale": {"domain": ["WT", "Rag1ᶜ/ᶜ"], "range": ["#111111", "#8e8e8e"]}, "legend": null}}},
   {"mark": {"type": "rule", "color": "#000", "strokeWidth": 0.8},
    "encoding": {"y": {"field": "v", "type": "quantitative", "scale": {"domain": [0, 100], "nice": false, "range": [95, 32]}, "title": "% Igκ+"}, "y2": {"field": "hi"}}},
   {"mark": {"type": "tick", "orient": "horizontal", "color": "#000", "size": 6, "thickness": 0.8},
    "encoding": {"y": {"field": "hi", "type": "quantitative", "scale": {"domain": [0, 100], "nice": false, "range": [95, 32]}, "title": "% Igκ+"}}}
  ]},
 {"width": 57, "height": 95,
  "layer": [
   {"data": {"values": [{"i": 1, "g": "WT", "v": 3.3, "hi": 4.0}, {"i": 2, "g": "Rag1ᶜ/ᶜ", "v": 1.05, "hi": 1.3}]},
    "encoding": {
      "x": {"field": "i", "type": "quantitative", "scale": {"domain": [0.5, 2.5], "nice": false, "zero": false, "range": [21, 57]}, "axis": {"values": [1, 2], "labelExpr": "datum.value == 1 ? 'WT' : 'Rag1ᶜ/ᶜ'", "labelAngle": -15, "labelFontStyle": "italic", "title": null}}},
    "layer": [
     {"mark": {"type": "bar", "size": 13, "stroke": "#000", "strokeWidth": 0.7},
      "encoding": {
       "y": {"field": "v", "type": "quantitative", "scale": {"domain": [0, 5], "nice": false, "range": [95, 32]}, "axis": {"offset": -21, "values": [0, 1, 2, 3, 4, 5], "title": "% Igλ+"}},
       "color": {"field": "g", "type": "nominal", "scale": {"domain": ["WT", "Rag1ᶜ/ᶜ"], "range": ["#111111", "#8e8e8e"]}, "legend": null}}},
     {"mark": {"type": "rule", "color": "#000", "strokeWidth": 0.8},
      "encoding": {"y": {"field": "v", "type": "quantitative", "scale": {"domain": [0, 5], "nice": false, "range": [95, 32]}, "title": "% Igλ+"}, "y2": {"field": "hi"}}},
     {"mark": {"type": "tick", "orient": "horizontal", "color": "#000", "size": 6, "thickness": 0.8},
      "encoding": {"y": {"field": "hi", "type": "quantitative", "scale": {"domain": [0, 5], "nice": false, "range": [95, 32]}, "title": "% Igλ+"}}}
    ]},
   {"data": {"values": [{"x1": 1, "x2": 2, "xm": 1.5, "y": 4.5}]},
    "encoding": {"y": {"field": "y", "type": "quantitative", "scale": {"domain": [0, 5], "nice": false, "range": [95, 32]}, "title": "% Igλ+"}},
    "layer": [
     {"mark": {"type": "rule", "color": "#000", "strokeWidth": 0.8},
      "encoding": {"x": {"field": "x1", "type": "quantitative", "scale": {"domain": [0.5, 2.5], "nice": false, "zero": false, "range": [21, 57]}, "title": null}, "x2": {"field": "x2"}}},
     {"mark": {"type": "text", "text": "*", "fontSize": 6, "baseline": "middle", "dy": -2, "color": "#000"},
      "encoding": {"x": {"field": "xm", "type": "quantitative", "scale": {"domain": [0.5, 2.5], "nice": false, "zero": false, "range": [21, 57]}, "title": null}}}
    ]}
  ]},
 {"width": 58, "height": 95,
  "title": {"text": "F.", "dx": 1, "dy": 24},
  "data": {"values": [{"i": 1, "g": "WT", "v": 740000, "hi": 890000}, {"i": 2, "g": "Rag1ᶜ/ᶜ", "v": 480000, "hi": 590000}]},
  "encoding": {
    "x": {"field": "i", "type": "quantitative", "scale": {"domain": [0.5, 2.5], "nice": false, "zero": false, "range": [17, 58]}, "axis": {"values": [1, 2], "labelExpr": "datum.value == 1 ? 'WT' : 'Rag1ᶜ/ᶜ'", "labelAngle": -15, "labelFontStyle": "italic", "title": null}}},
  "layer": [
   {"mark": {"type": "bar", "size": 14, "stroke": "#000", "strokeWidth": 0.7},
    "encoding": {
     "y": {"field": "v", "type": "quantitative", "scale": {"domain": [0, 1000000], "nice": false, "range": [95, 32]}, "axis": {"offset": -17, "values": [0, 200000, 400000, 600000, 800000, 1000000], "labelExpr": "datum.value == 0 ? '0' : datum.value >= 1000000 ? '1×10⁶' : format(datum.value/100000, 'd') + '×10⁵'", "title": "Number Igκ+"}},
     "color": {"field": "g", "type": "nominal", "scale": {"domain": ["WT", "Rag1ᶜ/ᶜ"], "range": ["#111111", "#8e8e8e"]}, "legend": null}}},
   {"mark": {"type": "rule", "color": "#000", "strokeWidth": 0.8},
    "encoding": {"y": {"field": "v", "type": "quantitative", "scale": {"domain": [0, 1000000], "nice": false, "range": [95, 32]}, "title": "Number Igκ+"}, "y2": {"field": "hi"}}},
   {"mark": {"type": "tick", "orient": "horizontal", "color": "#000", "size": 6, "thickness": 0.8},
    "encoding": {"y": {"field": "hi", "type": "quantitative", "scale": {"domain": [0, 1000000], "nice": false, "range": [95, 32]}, "title": "Number Igκ+"}}}
  ]},
 {"width": 78, "height": 95,
  "layer": [
   {"data": {"values": [{"i": 1, "g": "WT", "v": 42500, "hi": 51000}, {"i": 2, "g": "Rag1ᶜ/ᶜ", "v": 14500, "hi": 20000}]},
    "encoding": {
      "x": {"field": "i", "type": "quantitative", "scale": {"domain": [0.5, 2.5], "nice": false, "zero": false, "range": [42, 78]}, "axis": {"values": [1, 2], "labelExpr": "datum.value == 1 ? 'WT' : 'Rag1ᶜ/ᶜ'", "labelAngle": -15, "labelFontStyle": "italic", "title": null}}},
    "layer": [
     {"mark": {"type": "bar", "size": 13, "stroke": "#000", "strokeWidth": 0.7},
      "encoding": {
       "y": {"field": "v", "type": "quantitative", "scale": {"domain": [0, 60000], "nice": false, "range": [95, 32]}, "axis": {"offset": -42, "values": [0, 20000, 40000, 60000], "labelExpr": "datum.value == 0 ? '0' : format(datum.value/10000, 'd') + '×10⁴'", "title": "Number Igλ+"}},
       "color": {"field": "g", "type": "nominal", "scale": {"domain": ["WT", "Rag1ᶜ/ᶜ"], "range": ["#111111", "#8e8e8e"]}, "legend": null}}},
     {"mark": {"type": "rule", "color": "#000", "strokeWidth": 0.8},
      "encoding": {"y": {"field": "v", "type": "quantitative", "scale": {"domain": [0, 60000], "nice": false, "range": [95, 32]}, "title": "Number Igλ+"}, "y2": {"field": "hi"}}},
     {"mark": {"type": "tick", "orient": "horizontal", "color": "#000", "size": 6, "thickness": 0.8},
      "encoding": {"y": {"field": "hi", "type": "quantitative", "scale": {"domain": [0, 60000], "nice": false, "range": [95, 32]}, "title": "Number Igλ+"}}}
    ]},
   {"data": {"values": [{"x1": 1, "x2": 2, "xm": 1.5, "y": 56000}]},
    "encoding": {"y": {"field": "y", "type": "quantitative", "scale": {"domain": [0, 60000], "nice": false, "range": [95, 32]}, "title": "Number Igλ+"}},
    "layer": [
     {"mark": {"type": "rule", "color": "#000", "strokeWidth": 0.8},
      "encoding": {"x": {"field": "x1", "type": "quantitative", "scale": {"domain": [0.5, 2.5], "nice": false, "zero": false, "range": [42, 78]}, "title": null}, "x2": {"field": "x2"}}},
     {"mark": {"type": "text", "text": "*", "fontSize": 6, "baseline": "middle", "dy": -2, "color": "#000"},
      "encoding": {"x": {"field": "xm", "type": "quantitative", "scale": {"domain": [0.5, 2.5], "nice": false, "zero": false, "range": [42, 78]}, "title": null}}}
    ]}
  ]}
 ]},
 {"bounds": "flush", "spacing": 0,
  "resolve": {"scale": {"color": "independent", "shape": "independent", "size": "independent", "stroke": "independent"}},
  "hconcat": [
 {"width": 89, "height": 89,
  "title": {"text": "κᴹᴰ", "anchor": "middle", "fontSize": 5.5, "dx": 8.5, "dy": 12, "color": "#333"},
  "layer": [
   {"data": {"values": [
      {"x": 54, "y": 14, "f": "h", "lv": 7.5}, {"x": 54, "y": 14, "f": "h", "lv": 6.5}, {"x": 54, "y": 14, "f": "h", "lv": 5.5},
      {"x": 53, "y": 14, "f": "h", "lv": 5}, {"x": 53, "y": 14, "f": "h", "lv": 4.5}, {"x": 53, "y": 14, "f": "h", "lv": 4},
      {"x": 52, "y": 14, "f": "h", "lv": 3.5}, {"x": 52, "y": 14, "f": "h", "lv": 3}, {"x": 52, "y": 14, "f": "h", "lv": 2.5},
      {"x": 52, "y": 14, "f": "h", "lv": 2}, {"x": 52, "y": 14, "f": "h", "lv": 1.5},
      {"x": 13, "y": 13, "f": "h", "lv": 3.5}, {"x": 13, "y": 13, "f": "h", "lv": 3}, {"x": 13, "y": 13, "f": "h", "lv": 2.5},
      {"x": 13, "y": 13, "f": "h", "lv": 2}]},
    "mark": {"type": "point", "filled": false, "strokeWidth": 0.5, "opacity": 1},
    "encoding": {
     "x": {"field": "x", "type": "quantitative", "scale": {"domain": [0, 100], "nice": false, "zero": false, "range": [17, 89]}, "axis": null},
     "y": {"field": "y", "type": "quantitative", "scale": {"domain": [0, 100], "nice": false, "zero": false, "range": [89, 8]}, "axis": null},
     "shape": {"field": "f", "type": "nominal", "scale": {"domain": ["v", "h"], "range": ["M0,-1A0.4,1 0 1,1 0,1A0.4,1 0 1,1 0,-1Z", "M-1,0A1,0.5 0 1,1 1,0A1,0.5 0 1,1 -1,0Z"]}, "legend": null},
     "size": {"field": "lv", "type": "quantitative", "scale": {"type": "pow", "exponent": 2, "domain": [1, 10], "range": [40, 2500]}, "legend": null},
     "stroke": {"field": "lv", "type": "quantitative", "scale": {"domain": [1, 10], "range": ["#000000", "#a0a0a0"]}, "legend": null}}},
   {"data": {"values": [{"x": 0, "x2": 84, "y": 1, "y2": 1}]},
    "mark": {"type": "rule", "color": "#222", "strokeWidth": 1.6},
    "encoding": {
     "x": {"field": "x", "type": "quantitative", "scale": {"domain": [0, 100], "nice": false, "zero": false, "range": [17, 89]}, "axis": null}, "x2": {"field": "x2"},
     "y": {"field": "y", "type": "quantitative", "scale": {"domain": [0, 100], "nice": false, "zero": false, "range": [89, 8]}, "axis": null}, "y2": {"field": "y2"}}},
   {"data": {"values": [
      {"gate": "a", "o": 1, "x": 31, "y": 0.5}, {"gate": "a", "o": 2, "x": 31, "y": 28}, {"gate": "a", "o": 3, "x": 83, "y": 28},
      {"gate": "a", "o": 4, "x": 83, "y": 0.5}, {"gate": "a", "o": 5, "x": 31, "y": 0.5}]},
    "mark": {"type": "line", "color": "#000", "strokeWidth": 0.9},
    "encoding": {
     "x": {"field": "x", "type": "quantitative", "scale": {"domain": [0, 100], "nice": false, "zero": false, "range": [17, 89]}, "axis": null},
     "y": {"field": "y", "type": "quantitative", "scale": {"domain": [0, 100], "nice": false, "zero": false, "range": [89, 8]}, "axis": null},
     "detail": {"field": "gate"}, "order": {"field": "o"}}},
   {"data": {"values": [{"x": 0, "x2": 100, "y": 0, "y2": 100}]},
    "mark": {"type": "rect", "fill": "transparent", "stroke": "#8c8c8c", "strokeWidth": 0.7},
    "encoding": {
     "x": {"field": "x", "type": "quantitative", "scale": {"domain": [0, 100], "nice": false, "zero": false, "range": [17, 89]}, "axis": null}, "x2": {"field": "x2"},
     "y": {"field": "y", "type": "quantitative", "scale": {"domain": [0, 100], "nice": false, "zero": false, "range": [89, 8]}, "axis": null}, "y2": {"field": "y2"}}},
   {"data": {"values": [{"x": 92, "y": 12, "t": "62.7"}]},
    "mark": {"type": "text", "fontSize": 5, "color": "#222"},
    "encoding": {
     "x": {"field": "x", "type": "quantitative", "scale": {"domain": [0, 100], "nice": false, "zero": false, "range": [17, 89]}, "axis": null},
     "y": {"field": "y", "type": "quantitative", "scale": {"domain": [0, 100], "nice": false, "zero": false, "range": [89, 8]}, "axis": null},
     "text": {"field": "t"}}},
   {"data": {"values": [{"x": -17, "y": 96, "t": "G."}]},
    "mark": {"type": "text", "fontSize": 10, "align": "left", "baseline": "middle", "color": "#222"},
    "encoding": {
     "x": {"field": "x", "type": "quantitative", "scale": {"domain": [0, 100], "nice": false, "zero": false, "range": [17, 89]}, "axis": null},
     "y": {"field": "y", "type": "quantitative", "scale": {"domain": [0, 100], "nice": false, "zero": false, "range": [89, 8]}, "axis": null},
     "text": {"field": "t"}}},
   {"data": {"values": [{"x": -8.3, "x2": -8.3, "y": 0, "y2": 93}, {"x": 14, "x2": 213, "y": -8.4, "y2": -8.4}]},
    "mark": {"type": "rule", "color": "#000", "strokeWidth": 0.8},
    "encoding": {
     "x": {"field": "x", "type": "quantitative", "scale": {"domain": [0, 100], "nice": false, "zero": false, "range": [17, 89]}, "axis": null}, "x2": {"field": "x2"},
     "y": {"field": "y", "type": "quantitative", "scale": {"domain": [0, 100], "nice": false, "zero": false, "range": [89, 8]}, "axis": null}, "y2": {"field": "y2"}}},
   {"data": {"values": [{"x": -8.3, "y": 94}]},
    "mark": {"type": "point", "shape": "triangle-up", "filled": true, "color": "#000", "size": 10, "opacity": 1},
    "encoding": {
     "x": {"field": "x", "type": "quantitative", "scale": {"domain": [0, 100], "nice": false, "zero": false, "range": [17, 89]}, "axis": null},
     "y": {"field": "y", "type": "quantitative", "scale": {"domain": [0, 100], "nice": false, "zero": false, "range": [89, 8]}, "axis": null}}},
   {"data": {"values": [{"x": 214, "y": -8.4}]},
    "mark": {"type": "point", "shape": "triangle-right", "filled": true, "color": "#000", "size": 10, "opacity": 1},
    "encoding": {
     "x": {"field": "x", "type": "quantitative", "scale": {"domain": [0, 100], "nice": false, "zero": false, "range": [17, 89]}, "axis": null},
     "y": {"field": "y", "type": "quantitative", "scale": {"domain": [0, 100], "nice": false, "zero": false, "range": [89, 8]}, "axis": null}}},
   {"data": {"values": [{"x": -2.8, "y": 3, "t": "Igκ"}]},
    "mark": {"type": "text", "fontSize": 5, "angle": 270, "align": "left", "baseline": "middle", "color": "#222"},
    "encoding": {
     "x": {"field": "x", "type": "quantitative", "scale": {"domain": [0, 100], "nice": false, "zero": false, "range": [17, 89]}, "axis": null},
     "y": {"field": "y", "type": "quantitative", "scale": {"domain": [0, 100], "nice": false, "zero": false, "range": [89, 8]}, "axis": null},
     "text": {"field": "t"}}},
   {"data": {"values": [{"x": 3, "y": -8.4, "t": "Igλ"}]},
    "mark": {"type": "text", "fontSize": 5, "align": "left", "baseline": "middle", "color": "#222"},
    "encoding": {
     "x": {"field": "x", "type": "quantitative", "scale": {"domain": [0, 100], "nice": false, "zero": false, "range": [17, 89]}, "axis": null},
     "y": {"field": "y", "type": "quantitative", "scale": {"domain": [0, 100], "nice": false, "zero": false, "range": [89, 8]}, "axis": null},
     "text": {"field": "t"}}}
  ]},
 {"width": 84, "height": 89,
  "title": {"text": "κᴹᴰRag1ᶜ/ᶜ", "anchor": "middle", "fontSize": 5.5, "dx": 5.5, "dy": 12, "color": "#333"},
  "layer": [
   {"data": {"values": [
      {"x": 56, "y": 15, "f": "h", "lv": 7.5}, {"x": 56, "y": 15, "f": "h", "lv": 6.5}, {"x": 56, "y": 15, "f": "h", "lv": 6},
      {"x": 55, "y": 15, "f": "h", "lv": 5.5}, {"x": 55, "y": 15, "f": "h", "lv": 5}, {"x": 55, "y": 15, "f": "h", "lv": 4.5},
      {"x": 55, "y": 15, "f": "h", "lv": 4}, {"x": 54, "y": 15, "f": "h", "lv": 3.5}, {"x": 54, "y": 15, "f": "h", "lv": 3},
      {"x": 54, "y": 15, "f": "h", "lv": 2.5}, {"x": 54, "y": 15, "f": "h", "lv": 2}, {"x": 54, "y": 15, "f": "h", "lv": 1.5},
      {"x": 17, "y": 15, "f": "h", "lv": 4.5}, {"x": 17, "y": 15, "f": "h", "lv": 4}, {"x": 17, "y": 15, "f": "h", "lv": 3.5},
      {"x": 17, "y": 15, "f": "h", "lv": 3}, {"x": 17, "y": 15, "f": "h", "lv": 2.5}, {"x": 17, "y": 15, "f": "h", "lv": 2},
      {"x": 17, "y": 15, "f": "h", "lv": 1.5}]},
    "mark": {"type": "point", "filled": false, "strokeWidth": 0.5, "opacity": 1},
    "encoding": {
     "x": {"field": "x", "type": "quantitative", "scale": {"domain": [0, 100], "nice": false, "zero": false, "range": [11, 84]}, "axis": null},
     "y": {"field": "y", "type": "quantitative", "scale": {"domain": [0, 100], "nice": false, "zero": false, "range": [89, 8]}, "axis": null},
     "shape": {"field": "f", "type": "nominal", "scale": {"domain": ["v", "h"], "range": ["M0,-1A0.4,1 0 1,1 0,1A0.4,1 0 1,1 0,-1Z", "M-1,0A1,0.5 0 1,1 1,0A1,0.5 0 1,1 -1,0Z"]}, "legend": null},
     "size": {"field": "lv", "type": "quantitative", "scale": {"type": "pow", "exponent": 2, "domain": [1, 10], "range": [40, 2500]}, "legend": null},
     "stroke": {"field": "lv", "type": "quantitative", "scale": {"domain": [1, 10], "range": ["#000000", "#a0a0a0"]}, "legend": null}}},
   {"data": {"values": [{"x": 0, "x2": 86, "y": 1, "y2": 1}]},
    "mark": {"type": "rule", "color": "#222", "strokeWidth": 1.6},
    "encoding": {
     "x": {"field": "x", "type": "quantitative", "scale": {"domain": [0, 100], "nice": false, "zero": false, "range": [11, 84]}, "axis": null}, "x2": {"field": "x2"},
     "y": {"field": "y", "type": "quantitative", "scale": {"domain": [0, 100], "nice": false, "zero": false, "range": [89, 8]}, "axis": null}, "y2": {"field": "y2"}}},
   {"data": {"values": [
      {"gate": "a", "o": 1, "x": 31.5, "y": 0.5}, {"gate": "a", "o": 2, "x": 31.5, "y": 28}, {"gate": "a", "o": 3, "x": 85, "y": 28},
      {"gate": "a", "o": 4, "x": 85, "y": 0.5}, {"gate": "a", "o": 5, "x": 31.5, "y": 0.5}]},
    "mark": {"type": "line", "color": "#000", "strokeWidth": 0.9},
    "encoding": {
     "x": {"field": "x", "type": "quantitative", "scale": {"domain": [0, 100], "nice": false, "zero": false, "range": [11, 84]}, "axis": null},
     "y": {"field": "y", "type": "quantitative", "scale": {"domain": [0, 100], "nice": false, "zero": false, "range": [89, 8]}, "axis": null},
     "detail": {"field": "gate"}, "order": {"field": "o"}}},
   {"data": {"values": [{"x": 0, "x2": 100, "y": 0, "y2": 100}]},
    "mark": {"type": "rect", "fill": "transparent", "stroke": "#8c8c8c", "strokeWidth": 0.7},
    "encoding": {
     "x": {"field": "x", "type": "quantitative", "scale": {"domain": [0, 100], "nice": false, "zero": false, "range": [11, 84]}, "axis": null}, "x2": {"field": "x2"},
     "y": {"field": "y", "type": "quantitative", "scale": {"domain": [0, 100], "nice": false, "zero": false, "range": [89, 8]}, "axis": null}, "y2": {"field": "y2"}}},
   {"data": {"values": [{"x": 93, "y": 12, "t": "53.3"}]},
    "mark": {"type": "text", "fontSize": 5, "color": "#222"},
    "encoding": {
     "x": {"field": "x", "type": "quantitative", "scale": {"domain": [0, 100], "nice": false, "zero": false, "range": [11, 84]}, "axis": null},
     "y": {"field": "y", "type": "quantitative", "scale": {"domain": [0, 100], "nice": false, "zero": false, "range": [89, 8]}, "axis": null},
     "text": {"field": "t"}}}
  ]},
 {"width": 69, "height": 89,
  "title": {"text": "H.", "dx": 11, "dy": 27},
  "layer": [
   {"data": {"values": [{"i": 1, "g": "WT", "v": 5000000, "hi": 5650000}, {"i": 2, "g": "Rag1ᶜ/ᶜ", "v": 730000, "hi": 950000}]},
    "encoding": {
      "x": {"field": "i", "type": "quantitative", "scale": {"domain": [0.5, 2.5], "nice": false, "zero": false, "range": [26, 69]}, "axis": {"values": [1, 2], "labelExpr": "datum.value == 1 ? 'κᴹᴰ' : 'κᴹᴰRag1ᶜ/ᶜ'", "labelAngle": -15, "title": null}}},
    "layer": [
     {"mark": {"type": "bar", "size": 15, "stroke": "#000", "strokeWidth": 0.7},
      "encoding": {
       "y": {"field": "v", "type": "quantitative", "scale": {"domain": [0, 6000000], "nice": false, "range": [88, 27]}, "axis": {"offset": -26, "values": [0, 2000000, 4000000, 6000000], "labelExpr": "datum.value == 0 ? '0' : format(datum.value/1000000, 'd') + '×10⁶'", "title": "Number Igλ+"}},
       "color": {"field": "g", "type": "nominal", "scale": {"domain": ["WT", "Rag1ᶜ/ᶜ"], "range": ["#111111", "#8e8e8e"]}, "legend": null}}},
     {"mark": {"type": "rule", "color": "#000", "strokeWidth": 0.8},
      "encoding": {"y": {"field": "v", "type": "quantitative", "scale": {"domain": [0, 6000000], "nice": false, "range": [88, 27]}, "title": "Number Igλ+"}, "y2": {"field": "hi"}}},
     {"mark": {"type": "tick", "orient": "horizontal", "color": "#000", "size": 6, "thickness": 0.8},
      "encoding": {"y": {"field": "hi", "type": "quantitative", "scale": {"domain": [0, 6000000], "nice": false, "range": [88, 27]}, "title": "Number Igλ+"}}}
    ]},
   {"data": {"values": [{"x1": 1, "x2": 2, "xm": 1.5, "y": 6100000}]},
    "encoding": {"y": {"field": "y", "type": "quantitative", "scale": {"domain": [0, 6000000], "nice": false, "range": [88, 27]}, "title": "Number Igλ+"}},
    "layer": [
     {"mark": {"type": "rule", "color": "#000", "strokeWidth": 0.8},
      "encoding": {"x": {"field": "x1", "type": "quantitative", "scale": {"domain": [0.5, 2.5], "nice": false, "zero": false, "range": [26, 69]}, "title": null}, "x2": {"field": "x2"}}},
     {"mark": {"type": "text", "text": "*", "fontSize": 6, "baseline": "middle", "dy": -2, "color": "#000"},
      "encoding": {"x": {"field": "xm", "type": "quantitative", "scale": {"domain": [0.5, 2.5], "nice": false, "zero": false, "range": [26, 69]}, "title": null}}}
    ]}
  ]}
 ]}
]
}
